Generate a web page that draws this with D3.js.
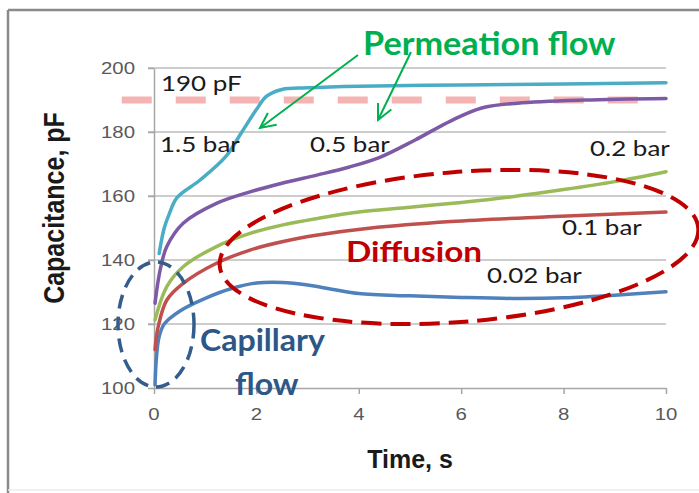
<!DOCTYPE html>
<html>
<head>
<meta charset="utf-8">
<script src="https://cdn.jsdelivr.net/npm/d3@7"></script>
<style>
  body { margin: 0; background: #fff; }
  svg { display: block; }
</style>
</head>
<body>
<svg id="chart" width="699" height="493"></svg>
<script>
// capacitance (pF) vs time (s)
const t15 = [0.1, 0.2, 0.3, 0.45, 0.9, 1.4, 1.7, 2.0, 2.2, 2.5, 3, 4, 6, 8, 10];
const c15 = [142, 150, 154.5, 159.5, 165, 172.3, 179.6, 187, 191.2, 193.3, 193.8, 194.3, 194.7, 195, 195.4];

const t05 = [0.02, 0.12, 0.25, 0.57, 1.22, 1.875, 2.5, 3.2, 3.8, 4.4, 5.1, 5.8, 6.4, 7.1, 8.4, 10];
const c05 = [126.5, 136.9, 144.2, 151.5, 157.7, 161.3, 164, 166.6, 169, 172, 177.5, 183.5, 187.5, 189, 190, 190.5];

const t02 = [0.02, 0.25, 0.57, 1.22, 1.875, 2.5, 3.2, 4, 5, 6, 7, 8, 9, 10];
const c02 = [121.3, 131.7, 137.9, 144.2, 148.3, 150.9, 153, 155, 156.5, 158, 159.8, 162, 164.5, 167.6];

const t01 = [0.02, 0.08, 0.25, 0.57, 1.22, 1.875, 2.5, 3.2, 4.2, 5.8, 7.7, 10];
const c01 = [112, 119, 127.5, 132.7, 139, 143.1, 145.7, 147.8, 149.9, 152, 153.5, 155];

const t002 = [0.02, 0.05, 0.1, 0.2, 0.5, 1, 1.5, 2, 2.5, 3, 3.5, 4, 5, 6, 7, 8, 9, 10];
const c002 = [101, 110, 116, 120, 124, 128, 131, 132.8, 133, 132.2, 130.8, 129.5, 128.8, 128.3, 128, 128.2, 129, 130.1];

const xTicks = [0, 2, 4, 6, 8, 10];
const yTicks = [100, 120, 140, 160, 180, 200];
const refValue = 190;
const refSpan = [-0.63, 9.9];

const series = [
  { t: t002, c: c002, color: '#4F81BD' },
  { t: t01, c: c01, color: '#C0504D' },
  { t: t02, c: c02, color: '#9BBB59' },
  { t: t05, c: c05, color: '#7D5AA6' },
  { t: t15, c: c15, color: '#4BACC6' }
];

const svg = d3.select('#chart');
const x = d3.scaleLinear().domain([0, 10]).range([154, 666]);
const y = d3.scaleLinear().domain([100, 200]).range([388, 68]);

function label(px, py, str, o) {
  return svg.append('text')
    .attr('transform', `translate(${px},${py}) scale(${o.sx || 1},1)`)
    .attr('text-anchor', o.anchor || 'start')
    .style('font-family', o.family || 'Lato')
    .style('font-size', o.size + 'px')
    .style('font-weight', o.weight || 'normal')
    .attr('fill', o.fill || '#1a1a1a')
    .text(str);
}

// picture frame
svg.append('line').attr('x1', 8).attr('x2', 699).attr('y1', 10).attr('y2', 10)
  .attr('stroke', '#8a8a8a').attr('stroke-width', 2.5);
svg.append('line').attr('x1', 8).attr('x2', 8).attr('y1', 10).attr('y2', 493)
  .attr('stroke', '#8a8a8a').attr('stroke-width', 2.5);
svg.append('line').attr('x1', 8).attr('x2', 699).attr('y1', 490).attr('y2', 490)
  .attr('stroke', '#ececec').attr('stroke-width', 1.5);

// gridlines
svg.append('g').selectAll('line')
  .data(yTicks.slice(1))
  .join('line')
  .attr('x1', x(0) - 6).attr('x2', x(10))
  .attr('y1', d => y(d)).attr('y2', d => y(d))
  .attr('stroke', '#bdbdbd').attr('stroke-width', 1.5);

// axes
const xAxis = svg.append('g')
  .attr('transform', `translate(0,${y(100)})`)
  .call(d3.axisBottom(x).tickValues(xTicks).tickSize(6).tickSizeOuter(0).tickFormat(''));
const yAxis = svg.append('g')
  .attr('transform', `translate(${x(0)},0)`)
  .call(d3.axisLeft(y).tickValues(yTicks).tickSize(6).tickSizeOuter(0).tickFormat(''));
[xAxis, yAxis].forEach(g => {
  g.selectAll('path, line').attr('stroke', '#a6a6a6').attr('stroke-width', 1.5);
});

xTicks.forEach(d => label(x(d), 420, d, { family: 'Liberation Sans', size: 17, sx: 1.2, anchor: 'middle', fill: '#595959' }));
yTicks.forEach(d => label(135, y(d) + 6, d, { family: 'Liberation Sans', size: 17, sx: 1.2, anchor: 'end', fill: '#595959' }));

// 190 pF reference
svg.append('line')
  .attr('x1', x(refSpan[0])).attr('x2', x(refSpan[1]))
  .attr('y1', y(refValue)).attr('y2', y(refValue))
  .attr('stroke', '#f6b3b3').attr('stroke-width', 7)
  .attr('stroke-dasharray', '30 24');

// curves
const line = d3.line()
  .x(d => x(d[0]))
  .y(d => y(d[1]))
  .curve(d3.curveCatmullRom.alpha(0.5));

svg.append('g').selectAll('path')
  .data(series)
  .join('path')
  .attr('d', s => line(d3.zip(s.t, s.c)))
  .attr('fill', 'none')
  .attr('stroke', s => s.color)
  .attr('stroke-width', 3.5)
  .attr('stroke-linecap', 'round');

// curve labels
const lab = { size: 22, sx: 1.18 };
label(161, 91, '190 pF', lab);
label(160, 152, '1.5 bar', lab);
label(310, 152, '0.5 bar', lab);
label(590, 156, '0.2 bar', lab);
label(562, 235, '0.1 bar', lab);
label(487, 283, '0.02 bar', lab);

// hand-drawn annotations
svg.append('ellipse')
  .attr('transform', 'translate(459,247) rotate(-4.5)')
  .attr('rx', 240).attr('ry', 75)
  .attr('fill', 'none').attr('stroke', '#C00000').attr('stroke-width', 4)
  .attr('stroke-dasharray', '20 9');
svg.append('ellipse')
  .attr('cx', 156).attr('cy', 324.5).attr('rx', 38).attr('ry', 62.5)
  .attr('fill', 'none').attr('stroke', '#345d8c').attr('stroke-width', 3.5)
  .attr('stroke-dasharray', '14 8');

function arrow(x1, y1, x2, y2) {
  const a = Math.atan2(y2 - y1, x2 - x1);
  const len = 17, spread = 0.45;
  const g = svg.append('g').attr('stroke', '#00B050').attr('stroke-width', 2).attr('fill', 'none');
  g.append('line').attr('x1', x1).attr('y1', y1).attr('x2', x2).attr('y2', y2);
  g.append('polyline').attr('points', [
    [x2 - len * Math.cos(a - spread), y2 - len * Math.sin(a - spread)],
    [x2, y2],
    [x2 - len * Math.cos(a + spread), y2 - len * Math.sin(a + spread)]
  ].map(p => p.join(',')).join(' '));
}
arrow(358, 55, 260, 128);
arrow(411, 52, 378, 120);

label(363, 55, 'Permeation flow', { size: 32, weight: 'bold', sx: 1.07, fill: '#00B050' });
label(346, 262, 'Diffusion', { size: 28, weight: 'bold', sx: 1.19, fill: '#C00000' });
label(200, 351, 'Capillary', { size: 30, weight: 'bold', sx: 1.07, fill: '#2c5787' });
label(235, 395, 'flow', { size: 30, weight: 'bold', sx: 1.07, fill: '#2c5787' });

// axis titles
label(410, 468, 'Time, s', { family: 'Liberation Sans', size: 25, weight: 'bold', anchor: 'middle' });
svg.append('text')
  .attr('transform', 'translate(64,208) scale(1.2,1) rotate(-90)')
  .attr('text-anchor', 'middle')
  .style('font-family', 'Liberation Sans')
  .style('font-size', '25px')
  .style('font-weight', 'bold')
  .attr('fill', '#1a1a1a')
  .text('Capacitance, pF');
</script>
</body>
</html>
